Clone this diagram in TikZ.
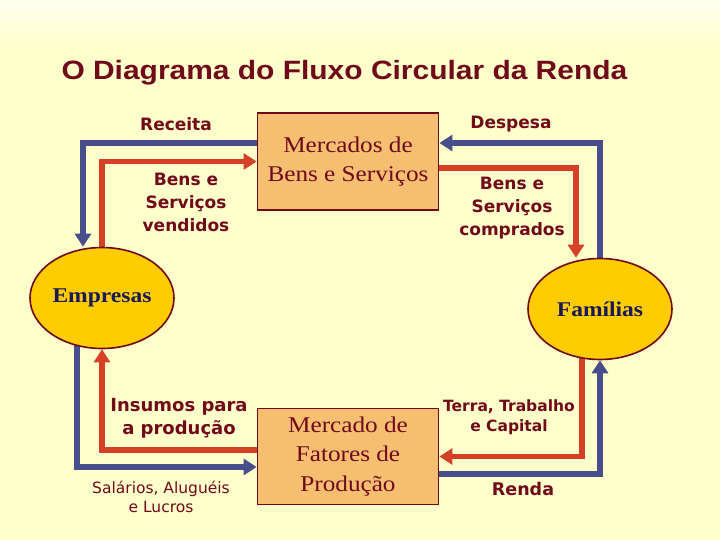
\documentclass[tikz,border=0pt]{standalone}
\usepackage{fontspec}
\setmainfont{Liberation Serif}
\newfontfamily\titlefont[FakeStretch=1.13]{Liberation Sans}
\newfontfamily\serffont[FakeStretch=1.12]{Liberation Serif}
\newfontfamily\labelfont{DejaVu Sans}
\usetikzlibrary{arrows.meta,shapes.geometric}
\definecolor{bgyellow}{RGB}{255,255,204}
\definecolor{darkwine}{RGB}{112,10,26}
\definecolor{boxorange}{RGB}{245,190,112}
\definecolor{gold}{RGB}{255,204,0}
\definecolor{flowblue}{RGB}{72,78,140}
\definecolor{flowred}{RGB}{214,64,38}
\definecolor{navytext}{RGB}{25,25,85}
\pgfdeclarelayer{bg}
\pgfsetlayers{bg,main}

\begin{document}
\begin{tikzpicture}[x=1pt,y=-1pt,
    market/.style={draw=darkwine,line width=1.8pt,fill=boxorange,minimum width=181pt,minimum height=97pt,
      align=center,text=darkwine,font=\serffont\fontsize{22.5}{29.5}\selectfont},
    agent/.style={ellipse,draw=darkwine,line width=1.6pt,fill=gold,minimum width=144pt,minimum height=101pt,
      inner sep=0pt,text=navytext,font=\serffont\bfseries\fontsize{21}{25}\selectfont},
    flowlabel/.style={align=center,text=darkwine,font=\labelfont\bfseries\fontsize{17}{23}\selectfont},
    blueflow/.style={draw=flowblue,line width=5.5pt,-{Triangle[length=13pt,width=16pt]}},
    redflow/.style={blueflow,draw=flowred}]
  \useasboundingbox (0,0) rectangle (720,540);

  \node[anchor=base west,text=darkwine,font=\titlefont\bfseries\fontsize{26.5}{30}\selectfont]
    (title) at (58,80) {O Diagrama do Fluxo Circular da Renda};

  % markets and agents
  \node[market] (mercBens) at (348,161.5) {Mercados de\\Bens e Serviços};
  \node[market,minimum height=96pt] (mercFat) at (348,456.5) {Mercado de\\Fatores de\\Produção};
  \node[agent] (emp) at (102,298) {Empresas};
  \node[agent] (fam) at (600,309) {Famílias};

  \node[flowlabel] (lblReceita) at (176,124) {Receita};
  \node[flowlabel] (lblVendidos) at (186,202) {Bens e\\Serviços\\vendidos};
  \node[flowlabel] (lblDespesa) at (511,124) {Despesa};
  \node[flowlabel] (lblComprados) at (512,208) {Bens e\\Serviços\\comprados};
  \node[flowlabel,font=\labelfont\bfseries\fontsize{18}{23}\selectfont] (lblInsumos) at (179,418) {Insumos para\\a produção};
  \node[flowlabel,font=\labelfont\fontsize{15.5}{19}\selectfont] (lblSalarios) at (161,497) {Salários, Aluguéis\\e Lucros};
  \node[flowlabel,font=\labelfont\bfseries\fontsize{15.5}{20}\selectfont] (lblTerra) at (509,417) {Terra, Trabalho\\e Capital};
  \node[flowlabel,font=\labelfont\bfseries\fontsize{17.5}{23}\selectfont] (lblRenda) at (523,489) {Renda};

  \begin{pgfonlayer}{bg}
    \fill[bgyellow] (0,0) rectangle (720,540);
    \shade[top color=white!70!bgyellow,bottom color=bgyellow] (0,0) rectangle (720,45);
    % flows of goods (red) and money (blue)
    \draw[blueflow] ([yshift=18.5pt]mercBens.west) -| ([xshift=-19pt]emp.north);
    \draw[redflow] (emp.center) |- (mercBens.west);
    \draw[blueflow] (fam.center) |- ([yshift=18.5pt]mercBens.east);
    \draw[redflow] ([yshift=-6.5pt]mercBens.east) -| ([xshift=-24pt]fam.north);
    \draw[redflow] ([yshift=6.5pt]mercFat.west) -| (emp.south);
    \draw[blueflow] ([xshift=-25pt]emp.center) |- ([yshift=-10.5pt]mercFat.west);
    \draw[redflow] ([xshift=-18pt]fam.center) |- (mercFat.east);
    \draw[blueflow] ([yshift=-17.5pt]mercFat.east) -| (fam.south);
  \end{pgfonlayer}
\end{tikzpicture}
\end{document}
